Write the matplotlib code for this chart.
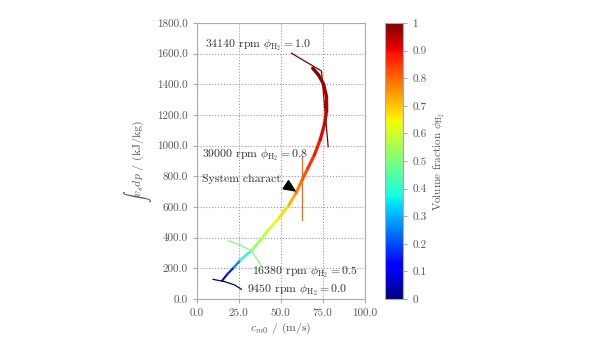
import numpy as np
import matplotlib
matplotlib.use('Agg')
import matplotlib.pyplot as plt
from matplotlib.collections import LineCollection
from matplotlib.colors import Normalize

plt.rcParams['font.family'] = 'cmr10'
plt.rcParams['mathtext.fontset'] = 'cm'
plt.rcParams['axes.formatter.use_mathtext'] = True

# system characteristic: c_m0 (m/s), int v_s dp (kJ/kg), volume fraction H2
sys_cm0 = [15.0, 18.0, 22.0, 26.0, 32.5, 38.0, 43.0, 49.0, 55.0, 59.0,
           62.7, 66.0, 70.0, 73.5, 76.0, 77.3, 77.2, 75.5, 72.5, 69.0]
sys_hv = [118, 160, 205, 255, 315, 385, 455, 530, 615, 690,
          776, 850, 940, 1040, 1140, 1230, 1320, 1400, 1460, 1505]
sys_phi = [0.0, 0.1, 0.2, 0.3, 0.5, 0.55, 0.6, 0.65, 0.7, 0.75,
           0.8, 0.84, 0.87, 0.9, 0.92, 0.94, 0.96, 0.97, 0.99, 1.0]

# compressor speed lines
n9450_cm0 = [9.7, 16.7, 22.6, 26.6]
n9450_hv = [128, 113, 91, 63]
n16380_cm0 = [18.7, 25.6, 32.5, 38.5]
n16380_hv = [380, 352, 315, 215]
n39000_cm0 = [62.9, 62.9]
n39000_hv = [515, 930]
n34140_cm0 = [56.3, 74.2, 78.2]
n34140_hv = [1603, 1487, 993]

speed_lines = [
    (n9450_cm0, n9450_hv, 0.0, '9450 rpm $\\phi_{\\mathrm{H_2}} = 0.0$', (29.8, 59)),
    (n16380_cm0, n16380_hv, 0.5, '16380 rpm $\\phi_{\\mathrm{H_2}} = 0.5$', (32.7, 176)),
    (n39000_cm0, n39000_hv, 0.8, '39000 rpm $\\phi_{\\mathrm{H_2}} = 0.8$', (3.0, 935)),
    (n34140_cm0, n34140_hv, 1.0, '34140 rpm $\\phi_{\\mathrm{H_2}} = 1.0$', (4.8, 1655)),
]

cmap = plt.get_cmap('jet')
norm = Normalize(0, 1)
grey = '#555555'

fig = plt.figure(figsize=(6.0, 3.37), dpi=100)
ax = fig.add_axes([0.328, 0.1128, 0.28, 0.819])
cax = fig.add_axes([0.642, 0.1128, 0.030, 0.819])

# system curve colored by phi, a bit thicker toward phi=1
pts = np.column_stack([sys_cm0, sys_hv])
segs = np.stack([pts[:-1], pts[1:]], axis=1)
phi_mid = [(a + b) / 2 for a, b in zip(sys_phi[:-1], sys_phi[1:])]
lc = LineCollection(segs, cmap=cmap, norm=norm,
                    linewidths=[1.4 + 1.0 * p for p in phi_mid],
                    capstyle='round', joinstyle='round', zorder=3)
lc.set_array(np.array(phi_mid))
ax.add_collection(lc)

for xs, ys, phi, txt, pos in speed_lines:
    ax.plot(xs, ys, color=cmap(norm(phi)), lw=0.9, zorder=2)
    ax.text(pos[0], pos[1], txt, fontsize=8.5, color='#333333',
            va='center', ha='left', zorder=4)

ax.annotate('System charact.', xy=(58.5, 705), xytext=(3.0, 785),
            fontsize=8.5, color='#333333', va='center',
            arrowprops=dict(facecolor='black', edgecolor='black',
                            width=0.3, headwidth=7, headlength=8, shrink=0))

ax.set_xlim(0, 100)
ax.set_ylim(0, 1800)
ax.set_xticks(np.arange(0, 101, 25))
ax.set_yticks(np.arange(0, 1801, 200))
ax.xaxis.set_major_formatter(matplotlib.ticker.FormatStrFormatter('%.1f'))
ax.yaxis.set_major_formatter(matplotlib.ticker.FormatStrFormatter('%.1f'))
ax.tick_params(labelsize=8, colors='#aaaaaa', labelcolor=grey, length=3)
ax.grid(True, linestyle=':', color='#999999', lw=0.8)
for s in ax.spines.values():
    s.set_color('#aaaaaa')
ax.set_xlabel('$c_{m0}$ / (m/s)', fontsize=8.5, color=grey, labelpad=2)
ax.set_ylabel('$\\int v_s dp$ / (kJ/kg)', fontsize=8.5, color=grey, labelpad=2)

sm = matplotlib.cm.ScalarMappable(norm=norm, cmap=cmap)
cb = fig.colorbar(sm, cax=cax, ticks=np.arange(0, 1.01, 0.1))
cb.ax.set_yticklabels(['0', '0.1', '0.2', '0.3', '0.4', '0.5',
                       '0.6', '0.7', '0.8', '0.9', '1'])
cb.ax.tick_params(labelsize=8, colors='#aaaaaa', labelcolor=grey, length=3)
cb.outline.set_edgecolor('#aaaaaa')
cb.set_label('Volume fraction $\\phi_{\\mathrm{H_2}}$', fontsize=8, color=grey)

fig.savefig('out.png', dpi=100)
